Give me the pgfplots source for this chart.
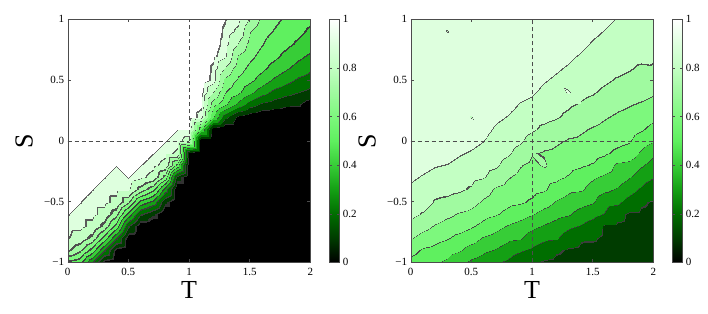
\documentclass[border=0pt]{standalone}
\usepackage{pgfplots}
\pgfplotsset{compat=1.18}
\usepackage{fontspec}
\setmainfont{Liberation Serif}
\pgfplotsset{
  colormap={bandsA}{rgb255(0pt)=(0,0,0) rgb255(7pt)=(50,50,50) rgb255(10pt)=(0,60,0) rgb255(17pt)=(60,60,60) rgb255(20pt)=(0,110,0) rgb255(27pt)=(60,60,60) rgb255(30pt)=(20,160,20) rgb255(37pt)=(60,60,60) rgb255(40pt)=(55,205,55) rgb255(47pt)=(60,60,60) rgb255(50pt)=(95,240,95) rgb255(57pt)=(70,70,70) rgb255(60pt)=(125,248,125) rgb255(67pt)=(80,80,80) rgb255(70pt)=(160,250,160) rgb255(77pt)=(80,80,80) rgb255(80pt)=(195,255,195) rgb255(89.2pt)=(90,90,90) rgb255(90pt)=(222,255,222) rgb255(95.4pt)=(100,100,100) rgb255(96pt)=(255,255,255) rgb255(100pt)=(255,255,255)},
  colormap={bandsB}{rgb255(0pt)=(0,0,0) rgb255(9.3pt)=(50,50,50) rgb255(10pt)=(0,60,0) rgb255(19.3pt)=(60,60,60) rgb255(20pt)=(0,110,0) rgb255(29.3pt)=(60,60,60) rgb255(30pt)=(20,160,20) rgb255(39.3pt)=(60,60,60) rgb255(40pt)=(55,205,55) rgb255(49.3pt)=(60,60,60) rgb255(50pt)=(95,240,95) rgb255(59.3pt)=(70,70,70) rgb255(60pt)=(125,248,125) rgb255(69.3pt)=(80,80,80) rgb255(70pt)=(160,250,160) rgb255(79.3pt)=(80,80,80) rgb255(80pt)=(195,255,195) rgb255(89.3pt)=(90,90,90) rgb255(90pt)=(222,255,222) rgb255(95.2pt)=(100,100,100) rgb255(96pt)=(255,255,255) rgb255(100pt)=(255,255,255)},
  colormap={bandsR}{rgb255(0pt)=(0,0,0) rgb255(9.6pt)=(60,60,60) rgb255(10pt)=(0,60,0) rgb255(19.6pt)=(60,60,60) rgb255(20pt)=(0,110,0) rgb255(29.6pt)=(60,60,60) rgb255(30pt)=(20,160,20) rgb255(39.6pt)=(60,60,60) rgb255(40pt)=(55,205,55) rgb255(49.6pt)=(70,70,70) rgb255(50pt)=(95,240,95) rgb255(59.6pt)=(70,70,70) rgb255(60pt)=(125,248,125) rgb255(69.6pt)=(80,80,80) rgb255(70pt)=(160,250,160) rgb255(79.6pt)=(80,80,80) rgb255(80pt)=(195,255,195) rgb255(89.6pt)=(90,90,90) rgb255(90pt)=(222,255,222) rgb255(98pt)=(255,255,255) rgb255(100pt)=(255,255,255)},
  colormap={cbar}{rgb255(0pt)=(0,0,0) rgb255(10pt)=(0,60,0) rgb255(20pt)=(0,110,0) rgb255(30pt)=(20,160,20) rgb255(40pt)=(55,205,55) rgb255(50pt)=(95,240,95) rgb255(60pt)=(125,248,125) rgb255(70pt)=(160,250,160) rgb255(80pt)=(195,255,195) rgb255(90pt)=(222,255,222) rgb255(100pt)=(255,255,255)},
  panel/.style={
    scale only axis, width=242.6pt, height=243pt,
    xmin=0, xmax=2, ymin=-1, ymax=1, enlargelimits=false,
    xtick={0,0.5,1,1.5,2}, xticklabels={0,0.5,1,1.5,2},
    ytick={-1,-0.5,0,0.5,1}, yticklabels={−1,−0.5,0,0.5,1},
    tick align=inside, major tick length=3pt,
    tick style={gray!60!black, thin},
    axis line style={gray!60!black, thin},
    tick label style={font=\fontsize{11}{11}\selectfont, black},
    xticklabel style={yshift=-2pt},
    xlabel={T}, ylabel={S},
    label style={font=\fontsize{26}{26}\selectfont},
    xlabel style={at={(axis description cs:0.5,-0.08)}, anchor=north, inner sep=0pt},
    ylabel style={at={(axis description cs:-0.143,0.5)}, anchor=south, inner sep=0pt},
    axis on top,
    colormap name=cbar, point meta min=0, point meta max=1,
    colorbar,
    colorbar style={
      at={(parent axis.north east)}, anchor=north west, xshift=10.4pt,
      width=10pt,
      ytick={0,0.2,0.4,0.6,0.8,1}, yticklabels={0,0.2,0.4,0.6,0.8,1},
      yticklabel style={font=\fontsize{11}{11}\selectfont},
      major tick length=2.5pt, tick align=inside,
      tick style={gray!60!black}, axis line style={gray!60!black},
    },
  },
  field/.style 2 args={surf, shader=interp, mesh/cols=#2, point meta=\thisrow{z},
    colormap name=#1, colormap access=piecewise constant},
  ref/.style={black!70, thin, dash pattern=on 4pt off 3pt, forget plot},
}
\begin{document}
\begin{tikzpicture}
\useasboundingbox (0,0) rectangle (708pt,313pt);
\begin{axis}[panel, at={(67.7pt,50.7pt)}, anchor=south west]
% T >= 0.9 part (fan)
\addplot[field={bandsB}{12}] table[row sep=\\] {
x y z\\
0.9 -1 0\\1 -1 0\\1.1 -1 0\\1.2 -1 0\\1.3 -1 0\\1.4 -1 0\\1.5 -1 0\\1.6 -1 0\\1.7 -1 0\\1.8 -1 0\\1.9 -1 0\\2 -1 0\\
0.9 -0.9 0\\1 -0.9 0\\1.1 -0.9 0\\1.2 -0.9 0\\1.3 -0.9 0\\1.4 -0.9 0\\1.5 -0.9 0\\1.6 -0.9 0\\1.7 -0.9 0\\1.8 -0.9 0\\1.9 -0.9 0\\2 -0.9 0\\
0.9 -0.8 0\\1 -0.8 0\\1.1 -0.8 0\\1.2 -0.8 0\\1.3 -0.8 0\\1.4 -0.8 0\\1.5 -0.8 0\\1.6 -0.8 0\\1.7 -0.8 0\\1.8 -0.8 0\\1.9 -0.8 0\\2 -0.8 0\\
0.9 -0.7 0\\1 -0.7 0\\1.1 -0.7 0\\1.2 -0.7 0\\1.3 -0.7 0\\1.4 -0.7 0\\1.5 -0.7 0\\1.6 -0.7 0\\1.7 -0.7 0\\1.8 -0.7 0\\1.9 -0.7 0\\2 -0.7 0\\
0.9 -0.6 0\\1 -0.6 0\\1.1 -0.6 0\\1.2 -0.6 0\\1.3 -0.6 0\\1.4 -0.6 0\\1.5 -0.6 0\\1.6 -0.6 0\\1.7 -0.6 0\\1.8 -0.6 0\\1.9 -0.6 0\\2 -0.6 0\\
0.9 -0.5 0\\1 -0.5 0\\1.1 -0.5 0\\1.2 -0.5 0\\1.3 -0.5 0\\1.4 -0.5 0\\1.5 -0.5 0\\1.6 -0.5 0\\1.7 -0.5 0\\1.8 -0.5 0\\1.9 -0.5 0\\2 -0.5 0\\
0.9 -0.4 0\\1 -0.4 0\\1.1 -0.4 0\\1.2 -0.4 0\\1.3 -0.4 0\\1.4 -0.4 0\\1.5 -0.4 0\\1.6 -0.4 0\\1.7 -0.4 0\\1.8 -0.4 0\\1.9 -0.4 0\\2 -0.4 0\\
0.9 -0.3 0.15\\1 -0.3 0\\1.1 -0.3 0\\1.2 -0.3 0\\1.3 -0.3 0\\1.4 -0.3 0\\1.5 -0.3 0\\1.6 -0.3 0\\1.7 -0.3 0\\1.8 -0.3 0\\1.9 -0.3 0\\2 -0.3 0\\
0.9 -0.2 0.55\\1 -0.2 0\\1.1 -0.2 0\\1.2 -0.2 0\\1.3 -0.2 0\\1.4 -0.2 0\\1.5 -0.2 0\\1.6 -0.2 0\\1.7 -0.2 0\\1.8 -0.2 0\\1.9 -0.2 0\\2 -0.2 0\\
0.9 -0.1 0.88\\1 -0.1 0.05\\1.1 -0.1 0\\1.2 -0.1 0\\1.3 -0.1 0\\1.4 -0.1 0\\1.5 -0.1 0\\1.6 -0.1 0\\1.7 -0.1 0\\1.8 -0.1 0\\1.9 -0.1 0\\2 -0.1 0\\
0.9 0 0.92\\1 0 0.85\\1.1 0 0\\1.2 0 0\\1.3 0 0\\1.4 0 0\\1.5 0 0\\1.6 0 0\\1.7 0 0\\1.8 0 0\\1.9 0 0\\2 0 0\\
0.9 0.1 0.96\\1 0.1 0.96\\1.1 0.1 0.52\\1.2 0.1 0.03\\1.3 0.1 0\\1.4 0.1 0\\1.5 0.1 0\\1.6 0.1 0\\1.7 0.1 0\\1.8 0.1 0\\1.9 0.1 0\\2 0.1 0\\
0.9 0.2 1\\1 0.2 1\\1.1 0.2 0.93\\1.2 0.2 0.51\\1.3 0.2 0.23\\1.4 0.2 0.07\\1.5 0.2 0.03\\1.6 0.2 0\\1.7 0.2 0\\1.8 0.2 0\\1.9 0.2 0\\2 0.2 0\\
0.9 0.3 1\\1 0.3 1\\1.1 0.3 0.972\\1.2 0.3 0.64\\1.3 0.3 0.52\\1.4 0.3 0.37\\1.5 0.3 0.25\\1.6 0.3 0.18\\1.7 0.3 0.15\\1.8 0.3 0.12\\1.9 0.3 0.11\\2 0.3 0.05\\
0.9 0.4 1\\1 0.4 1\\1.1 0.4 0.984\\1.2 0.4 0.80\\1.3 0.4 0.60\\1.4 0.4 0.52\\1.5 0.4 0.42\\1.6 0.4 0.34\\1.7 0.4 0.27\\1.8 0.4 0.23\\1.9 0.4 0.20\\2 0.4 0.17\\
0.9 0.5 1\\1 0.5 1\\1.1 0.5 1\\1.2 0.5 0.939\\1.3 0.5 0.67\\1.4 0.5 0.58\\1.5 0.5 0.52\\1.6 0.5 0.45\\1.7 0.5 0.38\\1.8 0.5 0.33\\1.9 0.5 0.28\\2 0.5 0.25\\
0.9 0.6 1\\1 0.6 1\\1.1 0.6 1\\1.2 0.6 0.945\\1.3 0.6 0.79\\1.4 0.6 0.64\\1.5 0.6 0.57\\1.6 0.6 0.52\\1.7 0.6 0.46\\1.8 0.6 0.41\\1.9 0.6 0.36\\2 0.6 0.32\\
0.9 0.7 1\\1 0.7 1\\1.1 0.7 1\\1.2 0.7 0.972\\1.3 0.7 0.912\\1.4 0.7 0.69\\1.5 0.7 0.62\\1.6 0.7 0.56\\1.7 0.7 0.52\\1.8 0.7 0.47\\1.9 0.7 0.42\\2 0.7 0.38\\
0.9 0.8 1\\1 0.8 1\\1.1 0.8 1\\1.2 0.8 0.99\\1.3 0.8 0.93\\1.4 0.8 0.79\\1.5 0.8 0.66\\1.6 0.8 0.60\\1.7 0.8 0.55\\1.8 0.8 0.52\\1.9 0.8 0.48\\2 0.8 0.44\\
0.9 0.9 1\\1 0.9 1\\1.1 0.9 1\\1.2 0.9 1\\1.3 0.9 0.942\\1.4 0.9 0.875\\1.5 0.9 0.70\\1.6 0.9 0.63\\1.7 0.9 0.59\\1.8 0.9 0.55\\1.9 0.9 0.52\\2 0.9 0.48\\
0.9 1 1\\1 1 1\\1.1 1 1\\1.2 1 1\\1.3 1 0.96\\1.4 1 0.92\\1.5 1 0.78\\1.6 1 0.67\\1.7 1 0.62\\1.8 1 0.58\\1.9 1 0.54\\2 1 0.52\\
};
% T <= 1 part (steep diagonal)
\addplot[field={bandsA}{11}] table[row sep=\\] {
x y z\\
0 -1 0.56\\0.1 -1 0.52\\0.2 -1 0.30\\0.3 -1 0.05\\0.4 -1 0\\0.5 -1 0\\0.6 -1 0\\0.7 -1 0\\0.8 -1 0\\0.9 -1 0\\1 -1 0\\
0 -0.9 0.80\\0.1 -0.9 0.70\\0.2 -0.9 0.55\\0.3 -0.9 0.30\\0.4 -0.9 0.05\\0.5 -0.9 0\\0.6 -0.9 0\\0.7 -0.9 0\\0.8 -0.9 0\\0.9 -0.9 0\\1 -0.9 0\\
0 -0.8 0.90\\0.1 -0.8 0.85\\0.2 -0.8 0.75\\0.3 -0.8 0.55\\0.4 -0.8 0.30\\0.5 -0.8 0.03\\0.6 -0.8 0\\0.7 -0.8 0\\0.8 -0.8 0\\0.9 -0.8 0\\1 -0.8 0\\
0 -0.7 0.92\\0.1 -0.7 0.92\\0.2 -0.7 0.87\\0.3 -0.7 0.75\\0.4 -0.7 0.55\\0.5 -0.7 0.20\\0.6 -0.7 0.02\\0.7 -0.7 0\\0.8 -0.7 0\\0.9 -0.7 0\\1 -0.7 0\\
0 -0.6 0.96\\0.1 -0.6 0.92\\0.2 -0.6 0.92\\0.3 -0.6 0.86\\0.4 -0.6 0.72\\0.5 -0.6 0.45\\0.6 -0.6 0.20\\0.7 -0.6 0.11\\0.8 -0.6 0\\0.9 -0.6 0\\1 -0.6 0\\
0 -0.5 1\\0.1 -0.5 0.96\\0.2 -0.5 0.92\\0.3 -0.5 0.92\\0.4 -0.5 0.87\\0.5 -0.5 0.70\\0.6 -0.5 0.45\\0.7 -0.5 0.35\\0.8 -0.5 0.11\\0.9 -0.5 0\\1 -0.5 0\\
0 -0.4 1\\0.1 -0.4 1\\0.2 -0.4 0.96\\0.3 -0.4 0.92\\0.4 -0.4 0.92\\0.5 -0.4 0.92\\0.6 -0.4 0.75\\0.7 -0.4 0.62\\0.8 -0.4 0.35\\0.9 -0.4 0\\1 -0.4 0\\
0 -0.3 1\\0.1 -0.3 1\\0.2 -0.3 1\\0.3 -0.3 0.96\\0.4 -0.3 0.92\\0.5 -0.3 0.96\\0.6 -0.3 0.92\\0.7 -0.3 0.86\\0.8 -0.3 0.65\\0.9 -0.3 0.15\\1 -0.3 0\\
0 -0.2 1\\0.1 -0.2 1\\0.2 -0.2 1\\0.3 -0.2 1\\0.4 -0.2 0.96\\0.5 -0.2 1\\0.6 -0.2 0.96\\0.7 -0.2 0.92\\0.8 -0.2 0.86\\0.9 -0.2 0.55\\1 -0.2 0\\
0 -0.1 1\\0.1 -0.1 1\\0.2 -0.1 1\\0.3 -0.1 1\\0.4 -0.1 1\\0.5 -0.1 1\\0.6 -0.1 1\\0.7 -0.1 0.96\\0.8 -0.1 0.92\\0.9 -0.1 0.88\\1 -0.1 0.05\\
0 0 1\\0.1 0 1\\0.2 0 1\\0.3 0 1\\0.4 0 1\\0.5 0 1\\0.6 0 1\\0.7 0 1\\0.8 0 0.96\\0.9 0 0.92\\1 0 0.85\\
0 0.1 1\\0.1 0.1 1\\0.2 0.1 1\\0.3 0.1 1\\0.4 0.1 1\\0.5 0.1 1\\0.6 0.1 1\\0.7 0.1 1\\0.8 0.1 1\\0.9 0.1 0.96\\1 0.1 0.96\\
0 0.2 1\\0.1 0.2 1\\0.2 0.2 1\\0.3 0.2 1\\0.4 0.2 1\\0.5 0.2 1\\0.6 0.2 1\\0.7 0.2 1\\0.8 0.2 1\\0.9 0.2 1\\1 0.2 1\\
0 0.3 1\\0.1 0.3 1\\0.2 0.3 1\\0.3 0.3 1\\0.4 0.3 1\\0.5 0.3 1\\0.6 0.3 1\\0.7 0.3 1\\0.8 0.3 1\\0.9 0.3 1\\1 0.3 1\\
0 0.4 1\\0.1 0.4 1\\0.2 0.4 1\\0.3 0.4 1\\0.4 0.4 1\\0.5 0.4 1\\0.6 0.4 1\\0.7 0.4 1\\0.8 0.4 1\\0.9 0.4 1\\1 0.4 1\\
0 0.5 1\\0.1 0.5 1\\0.2 0.5 1\\0.3 0.5 1\\0.4 0.5 1\\0.5 0.5 1\\0.6 0.5 1\\0.7 0.5 1\\0.8 0.5 1\\0.9 0.5 1\\1 0.5 1\\
0 0.6 1\\0.1 0.6 1\\0.2 0.6 1\\0.3 0.6 1\\0.4 0.6 1\\0.5 0.6 1\\0.6 0.6 1\\0.7 0.6 1\\0.8 0.6 1\\0.9 0.6 1\\1 0.6 1\\
0 0.7 1\\0.1 0.7 1\\0.2 0.7 1\\0.3 0.7 1\\0.4 0.7 1\\0.5 0.7 1\\0.6 0.7 1\\0.7 0.7 1\\0.8 0.7 1\\0.9 0.7 1\\1 0.7 1\\
0 0.8 1\\0.1 0.8 1\\0.2 0.8 1\\0.3 0.8 1\\0.4 0.8 1\\0.5 0.8 1\\0.6 0.8 1\\0.7 0.8 1\\0.8 0.8 1\\0.9 0.8 1\\1 0.8 1\\
0 0.9 1\\0.1 0.9 1\\0.2 0.9 1\\0.3 0.9 1\\0.4 0.9 1\\0.5 0.9 1\\0.6 0.9 1\\0.7 0.9 1\\0.8 0.9 1\\0.9 0.9 1\\1 0.9 1\\
0 1 1\\0.1 1 1\\0.2 1 1\\0.3 1 1\\0.4 1 1\\0.5 1 1\\0.6 1 1\\0.7 1 1\\0.8 1 1\\0.9 1 1\\1 1 1\\
};
\addplot[ref] coordinates {(0,0) (1,0)};
\addplot[ref] coordinates {(1,0) (1,1)};
\end{axis}
\begin{axis}[panel, at={(410.7pt,50.7pt)}, anchor=south west]
\addplot[field={bandsR}{21}] table[row sep=\\] {
x y z\\
0 -1 0.57\\0.1 -1 0.54\\0.2 -1 0.51\\0.3 -1 0.48\\0.4 -1 0.42\\0.5 -1 0.38\\0.6 -1 0.35\\0.7 -1 0.31\\0.8 -1 0.28\\0.9 -1 0.23\\1 -1 0.205\\1.1 -1 0.19\\1.2 -1 0.18\\1.3 -1 0.17\\1.4 -1 0.16\\1.5 -1 0.14\\1.6 -1 0.13\\1.7 -1 0.12\\1.8 -1 0.12\\1.9 -1 0.11\\2 -1 0.11\\
0 -0.9 0.63\\0.1 -0.9 0.585\\0.2 -0.9 0.57\\0.3 -0.9 0.54\\0.4 -0.9 0.51\\0.5 -0.9 0.46\\0.6 -0.9 0.42\\0.7 -0.9 0.39\\0.8 -0.9 0.35\\0.9 -0.9 0.31\\1 -0.9 0.28\\1.1 -0.9 0.245\\1.2 -0.9 0.21\\1.3 -0.9 0.19\\1.4 -0.9 0.18\\1.5 -0.9 0.17\\1.6 -0.9 0.155\\1.7 -0.9 0.145\\1.8 -0.9 0.14\\1.9 -0.9 0.13\\2 -0.9 0.125\\
0 -0.8 0.705\\0.1 -0.8 0.66\\0.2 -0.8 0.63\\0.3 -0.8 0.605\\0.4 -0.8 0.57\\0.5 -0.8 0.54\\0.6 -0.8 0.49\\0.7 -0.8 0.46\\0.8 -0.8 0.42\\0.9 -0.8 0.41\\1 -0.8 0.35\\1.1 -0.8 0.32\\1.2 -0.8 0.31\\1.3 -0.8 0.25\\1.4 -0.8 0.21\\1.5 -0.8 0.21\\1.6 -0.8 0.18\\1.7 -0.8 0.165\\1.8 -0.8 0.155\\1.9 -0.8 0.15\\2 -0.8 0.14\\
0 -0.7 0.77\\0.1 -0.7 0.73\\0.2 -0.7 0.69\\0.3 -0.7 0.66\\0.4 -0.7 0.64\\0.5 -0.7 0.61\\0.6 -0.7 0.57\\0.7 -0.7 0.53\\0.8 -0.7 0.49\\0.9 -0.7 0.46\\1 -0.7 0.42\\1.1 -0.7 0.39\\1.2 -0.7 0.36\\1.3 -0.7 0.32\\1.4 -0.7 0.29\\1.5 -0.7 0.25\\1.6 -0.7 0.185\\1.7 -0.7 0.185\\1.8 -0.7 0.175\\1.9 -0.7 0.165\\2 -0.7 0.16\\
0 -0.6 0.82\\0.1 -0.6 0.79\\0.2 -0.6 0.75\\0.3 -0.6 0.72\\0.4 -0.6 0.69\\0.5 -0.6 0.67\\0.6 -0.6 0.63\\0.7 -0.6 0.605\\0.8 -0.6 0.57\\0.9 -0.6 0.54\\1 -0.6 0.505\\1.1 -0.6 0.46\\1.2 -0.6 0.43\\1.3 -0.6 0.41\\1.4 -0.6 0.36\\1.5 -0.6 0.33\\1.6 -0.6 0.29\\1.7 -0.6 0.23\\1.8 -0.6 0.185\\1.9 -0.6 0.185\\2 -0.6 0.175\\
0 -0.5 0.836\\0.1 -0.5 0.83\\0.2 -0.5 0.79\\0.3 -0.5 0.78\\0.4 -0.5 0.76\\0.5 -0.5 0.73\\0.6 -0.5 0.685\\0.7 -0.5 0.65\\0.8 -0.5 0.62\\0.9 -0.5 0.61\\1 -0.5 0.585\\1.1 -0.5 0.54\\1.2 -0.5 0.49\\1.3 -0.5 0.46\\1.4 -0.5 0.43\\1.5 -0.5 0.405\\1.6 -0.5 0.33\\1.7 -0.5 0.32\\1.8 -0.5 0.26\\1.9 -0.5 0.21\\2 -0.5 0.19\\
0 -0.4 0.876\\0.1 -0.4 0.848\\0.2 -0.4 0.824\\0.3 -0.4 0.82\\0.4 -0.4 0.81\\0.5 -0.4 0.79\\0.6 -0.4 0.74\\0.7 -0.4 0.685\\0.8 -0.4 0.66\\0.9 -0.4 0.64\\1 -0.4 0.625\\1.1 -0.4 0.61\\1.2 -0.4 0.56\\1.3 -0.4 0.52\\1.4 -0.4 0.51\\1.5 -0.4 0.46\\1.6 -0.4 0.42\\1.7 -0.4 0.39\\1.8 -0.4 0.34\\1.9 -0.4 0.285\\2 -0.4 0.23\\
0 -0.3 0.916\\0.1 -0.3 0.888\\0.2 -0.3 0.864\\0.3 -0.3 0.856\\0.4 -0.3 0.828\\0.5 -0.3 0.82\\0.6 -0.3 0.805\\0.7 -0.3 0.76\\0.8 -0.3 0.705\\0.9 -0.3 0.67\\1 -0.3 0.65\\1.1 -0.3 0.635\\1.2 -0.3 0.62\\1.3 -0.3 0.59\\1.4 -0.3 0.55\\1.5 -0.3 0.51\\1.6 -0.3 0.48\\1.7 -0.3 0.45\\1.8 -0.3 0.405\\1.9 -0.3 0.35\\2 -0.3 0.305\\
0 -0.2 0.956\\0.1 -0.2 0.928\\0.2 -0.2 0.904\\0.3 -0.2 0.895\\0.4 -0.2 0.868\\0.5 -0.2 0.848\\0.6 -0.2 0.83\\0.7 -0.2 0.81\\0.8 -0.2 0.76\\0.9 -0.2 0.705\\1 -0.2 0.675\\1.1 -0.2 0.71\\1.2 -0.2 0.65\\1.3 -0.2 0.63\\1.4 -0.2 0.61\\1.5 -0.2 0.59\\1.6 -0.2 0.55\\1.7 -0.2 0.48\\1.8 -0.2 0.465\\1.9 -0.2 0.41\\2 -0.2 0.36\\
0 -0.1 0.96\\0.1 -0.1 0.968\\0.2 -0.1 0.944\\0.3 -0.1 0.936\\0.4 -0.1 0.908\\0.5 -0.1 0.888\\0.6 -0.1 0.86\\0.7 -0.1 0.84\\0.8 -0.1 0.81\\0.9 -0.1 0.76\\1 -0.1 0.705\\1.1 -0.1 0.69\\1.2 -0.1 0.68\\1.3 -0.1 0.66\\1.4 -0.1 0.64\\1.5 -0.1 0.63\\1.6 -0.1 0.61\\1.7 -0.1 0.58\\1.8 -0.1 0.56\\1.9 -0.1 0.48\\2 -0.1 0.42\\
0 0 0.96\\0.1 0 0.965\\0.2 0 0.97\\0.3 0 0.97\\0.4 0 0.948\\0.5 0 0.928\\0.6 0 0.90\\0.7 0 0.84\\0.8 0 0.84\\0.9 0 0.81\\1 0 0.76\\1.1 0 0.73\\1.2 0 0.71\\1.3 0 0.69\\1.4 0 0.68\\1.5 0 0.66\\1.6 0 0.64\\1.7 0 0.62\\1.8 0 0.605\\1.9 0 0.55\\2 0 0.505\\
0 0.1 0.965\\0.1 0.1 0.965\\0.2 0.1 0.965\\0.3 0.1 0.96\\0.4 0.1 0.97\\0.5 0.1 0.968\\0.6 0.1 0.94\\0.7 0.1 0.88\\0.8 0.1 0.852\\0.9 0.1 0.84\\1 0.1 0.81\\1.1 0.1 0.78\\1.2 0.1 0.76\\1.3 0.1 0.73\\1.4 0.1 0.71\\1.5 0.1 0.69\\1.6 0.1 0.67\\1.7 0.1 0.65\\1.8 0.1 0.64\\1.9 0.1 0.61\\2 0.1 0.57\\
0 0.2 0.965\\0.1 0.2 0.965\\0.2 0.2 0.965\\0.3 0.2 0.965\\0.4 0.2 0.96\\0.5 0.2 0.89\\0.6 0.2 0.97\\0.7 0.2 0.92\\0.8 0.2 0.892\\0.9 0.2 0.852\\1 0.2 0.832\\1.1 0.2 0.82\\1.2 0.2 0.805\\1.3 0.2 0.78\\1.4 0.2 0.75\\1.5 0.2 0.73\\1.6 0.2 0.705\\1.7 0.2 0.685\\1.8 0.2 0.67\\1.9 0.2 0.65\\2 0.2 0.62\\
0 0.3 0.965\\0.1 0.3 0.965\\0.2 0.3 0.965\\0.3 0.3 0.965\\0.4 0.3 0.96\\0.5 0.3 0.955\\0.6 0.3 0.95\\0.7 0.3 0.96\\0.8 0.3 0.932\\0.9 0.3 0.892\\1 0.3 0.872\\1.1 0.3 0.828\\1.2 0.3 0.83\\1.3 0.3 0.81\\1.4 0.3 0.79\\1.5 0.3 0.77\\1.6 0.3 0.74\\1.7 0.3 0.72\\1.8 0.3 0.705\\1.9 0.3 0.69\\2 0.3 0.67\\
0 0.4 0.965\\0.1 0.4 0.965\\0.2 0.4 0.965\\0.3 0.4 0.965\\0.4 0.4 0.962\\0.5 0.4 0.96\\0.6 0.4 0.955\\0.7 0.4 0.95\\0.8 0.4 0.97\\0.9 0.4 0.932\\1 0.4 0.912\\1.1 0.4 0.868\\1.2 0.4 0.836\\1.3 0.4 0.91\\1.4 0.4 0.82\\1.5 0.4 0.805\\1.6 0.4 0.78\\1.7 0.4 0.76\\1.8 0.4 0.74\\1.9 0.4 0.73\\2 0.4 0.71\\
0 0.5 0.966\\0.1 0.5 0.966\\0.2 0.5 0.965\\0.3 0.5 0.963\\0.4 0.5 0.962\\0.5 0.5 0.96\\0.6 0.5 0.955\\0.7 0.5 0.952\\0.8 0.5 0.95\\0.9 0.5 0.97\\1 0.5 0.952\\1.1 0.5 0.908\\1.2 0.5 0.876\\1.3 0.5 0.844\\1.4 0.5 0.84\\1.5 0.5 0.83\\1.6 0.5 0.81\\1.7 0.5 0.79\\1.8 0.5 0.775\\1.9 0.5 0.76\\2 0.5 0.75\\
0 0.6 0.968\\0.1 0.6 0.97\\0.2 0.6 0.968\\0.3 0.6 0.965\\0.4 0.6 0.962\\0.5 0.6 0.959\\0.6 0.6 0.954\\0.7 0.6 0.949\\0.8 0.6 0.945\\0.9 0.6 0.945\\1 0.6 0.95\\1.1 0.6 0.948\\1.2 0.6 0.916\\1.3 0.6 0.884\\1.4 0.6 0.844\\1.5 0.6 0.85\\1.6 0.6 0.83\\1.7 0.6 0.82\\1.8 0.6 0.805\\1.9 0.6 0.785\\2 0.6 0.79\\
0 0.7 0.97\\0.1 0.7 0.97\\0.2 0.7 0.97\\0.3 0.7 0.97\\0.4 0.7 0.967\\0.5 0.7 0.964\\0.6 0.7 0.959\\0.7 0.7 0.954\\0.8 0.7 0.95\\0.9 0.7 0.946\\1 0.7 0.942\\1.1 0.7 0.937\\1.2 0.7 0.956\\1.3 0.7 0.924\\1.4 0.7 0.884\\1.5 0.7 0.844\\1.6 0.7 0.85\\1.7 0.7 0.84\\1.8 0.7 0.83\\1.9 0.7 0.82\\2 0.7 0.81\\
0 0.8 0.97\\0.1 0.8 0.97\\0.2 0.8 0.97\\0.3 0.8 0.97\\0.4 0.8 0.97\\0.5 0.8 0.969\\0.6 0.8 0.965\\0.7 0.8 0.959\\0.8 0.8 0.956\\0.9 0.8 0.951\\1 0.8 0.947\\1.1 0.8 0.943\\1.2 0.8 0.938\\1.3 0.8 0.964\\1.4 0.8 0.924\\1.5 0.8 0.884\\1.6 0.8 0.852\\1.7 0.8 0.86\\1.8 0.8 0.845\\1.9 0.8 0.84\\2 0.8 0.83\\
0 0.9 0.97\\0.1 0.9 0.97\\0.2 0.9 0.97\\0.3 0.9 0.89\\0.4 0.9 0.97\\0.5 0.9 0.97\\0.6 0.9 0.97\\0.7 0.9 0.965\\0.8 0.9 0.961\\0.9 0.9 0.956\\1 0.9 0.952\\1.1 0.9 0.948\\1.2 0.9 0.943\\1.3 0.9 0.938\\1.4 0.9 0.964\\1.5 0.9 0.924\\1.6 0.9 0.892\\1.7 0.9 0.852\\1.8 0.9 0.828\\1.9 0.9 0.83\\2 0.9 0.83\\
0 1 0.97\\0.1 1 0.97\\0.2 1 0.97\\0.3 1 0.97\\0.4 1 0.97\\0.5 1 0.97\\0.6 1 0.97\\0.7 1 0.97\\0.8 1 0.966\\0.9 1 0.961\\1 1 0.958\\1.1 1 0.953\\1.2 1 0.948\\1.3 1 0.943\\1.4 1 0.938\\1.5 1 0.964\\1.6 1 0.932\\1.7 1 0.892\\1.8 1 0.868\\1.9 1 0.844\\2 1 0.82\\
};
\addplot[ref] coordinates {(0,0) (2,0)};
\addplot[ref] coordinates {(1,-1) (1,1)};
\end{axis}
\end{tikzpicture}
\end{document}
